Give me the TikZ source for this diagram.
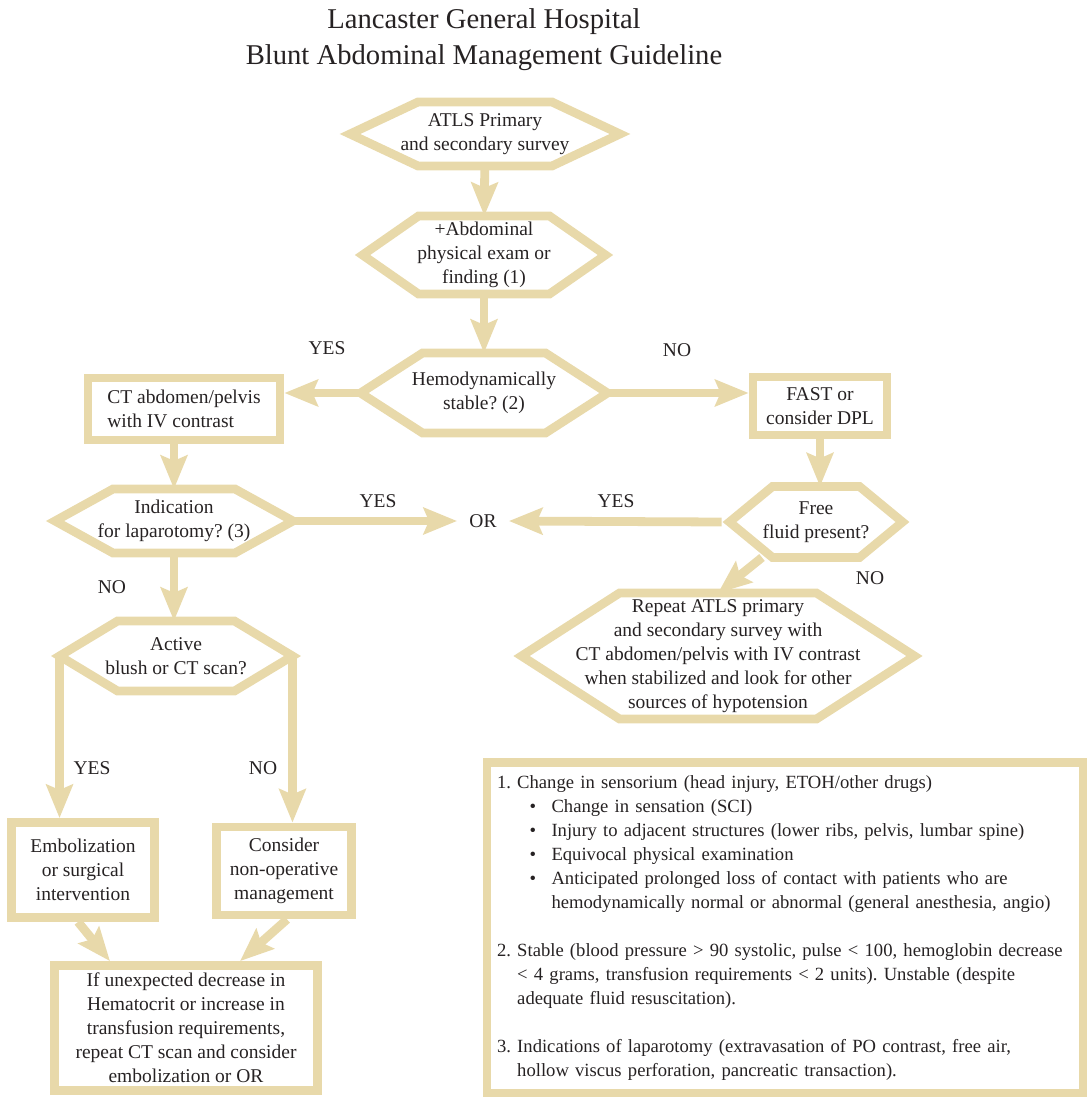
\documentclass[tikz,border=0pt]{standalone}
\usepackage{fontspec}
\setmainfont{Liberation Serif}
\usetikzlibrary{arrows.meta,calc}
\frenchspacing

\definecolor{sand}{RGB}{232,217,170}
\definecolor{ink}{RGB}{38,34,35}

\newcommand{\notebul}{\makebox[31pt][l]{\hspace*{18.5pt}\textbullet}}
\newcommand{\noteind}{\hspace*{31pt}}
% hexagon outline round a node: name, pointer length
\newcommand{\hexline}[2]{%
  \draw[hexedge] (#1.west) -- ($(#1.north west)+(#2,0)$) -- ($(#1.north east)+(-#2,0)$)
    -- (#1.east) -- ($(#1.south east)+(-#2,0)$) -- ($(#1.south west)+(#2,0)$) -- cycle;}

\tikzset{
  hexbox/.style={rectangle, align=center, inner sep=0pt, outer sep=0pt, text=ink},
  hexedge/.style={draw=sand, line width=5pt, line join=miter},
  sqbox/.style={rectangle, draw=sand, line width=5pt, align=center, inner sep=0pt, text=ink},
  flow/.style={draw=sand, line width=5pt, -{Stealth[length=19pt,width=15pt,inset=3pt]}},
  lbl/.style={text=ink, inner sep=0pt},
}

\begin{document}
\begin{tikzpicture}[x=0.02cm, y=-0.02cm, font=\fontsize{11.1}{13.7}\selectfont]
  \useasboundingbox (0,0) rectangle (1086,1097);

  % title
  \node[lbl, align=center, font=\fontsize{16.3}{20.4}\selectfont] (title) at (484,40)
    {Lancaster General Hospital\\Blunt Abdominal Management Guideline};

  % decisions
  \node[hexbox, minimum width=5.4cm, minimum height=1.28cm] (atls) at (485,134)
    {ATLS Primary\\and secondary survey};
  \node[hexbox, minimum width=4.86cm, minimum height=1.56cm] (abd) at (484,255)
    {+Abdominal\\physical exam or\\finding (1)};
  \node[hexbox, minimum width=4.94cm, minimum height=1.6cm] (hemo) at (484,393)
    {Hemodynamically\\stable? (2)};
  \node[hexbox, minimum width=4.76cm, minimum height=1.28cm] (ind) at (174,521)
    {Indication\\for laparotomy? (3)};
  \node[hexbox, minimum width=4.66cm, minimum height=1.4cm] (active) at (176,656)
    {Active\\blush or CT scan?};
  \node[hexbox, minimum width=3.46cm, minimum height=1.42cm] (free) at (816,522)
    {Free\\fluid present?};
  \node[hexbox, minimum width=7.86cm, minimum height=2.52cm] (repeat) at (718,656)
    {Repeat ATLS primary\\and secondary survey with\\CT abdomen/pelvis with IV contrast\\when stabilized and look for other\\sources of hypotension};
  \hexline{atls}{68}
  \hexline{abd}{56}
  \hexline{hemo}{62}
  \hexline{ind}{58}
  \hexline{active}{58}
  \hexline{free}{43}
  \hexline{repeat}{98}

  % actions
  \node[sqbox, align=left, minimum width=3.84cm, minimum height=1.24cm] (ct) at (184,409)
    {CT abdomen/pelvis\\with IV contrast};
  \node[sqbox, minimum width=2.68cm, minimum height=1.16cm] (fast) at (820,406)
    {FAST or\\consider DPL};
  \node[sqbox, minimum width=2.86cm, minimum height=1.9cm] (emb) at (83,870)
    {Embolization\\or surgical\\intervention};
  \node[sqbox, minimum width=2.7cm, minimum height=1.76cm] (consider) at (284,871)
    {Consider\\non-operative\\management};
  \node[sqbox, minimum width=5.26cm, minimum height=2.5cm] (ifbox) at (186,1028)
    {If unexpected decrease in\\Hematocrit or increase in\\transfusion requirements,\\repeat CT scan and consider\\embolization or OR};
  \node[lbl, inner sep=0.24cm] (or) at (483,521) {OR};

  % footnotes
  \node[sqbox, align=left, minimum width=11.92cm, minimum height=6.62cm, text width=11.52cm,
    font=\fontsize{10.6}{13.7}\selectfont] (notes) at (785,928)
    {1.~Change in sensorium (head injury, ETOH/other drugs)\\
     \notebul Change in sensation (SCI)\\
     \notebul Injury to adjacent structures (lower ribs, pelvis, lumbar spine)\\
     \notebul Equivocal physical examination\\
     \notebul Anticipated prolonged loss of contact with patients who are\\
     \noteind hemodynamically normal or abnormal (general anesthesia, angio)\\[13.7pt]
     2.~Stable (blood pressure > 90 systolic, pulse < 100, hemoglobin decrease\\
     \phantom{2.~}< 4 grams, transfusion requirements < 2 units). Unstable (despite\\
     \phantom{2.~}adequate fluid resuscitation).\\[13.7pt]
     3.~Indications of laparotomy (extravasation of PO contrast, free air,\\
     \phantom{3.~}hollow viscus perforation, pancreatic transaction).};

  % connectors
  \draw[flow] (atls) -- (abd);
  \draw[flow] (abd) -- (hemo);
  \draw[flow] (hemo.west) -- (hemo.west -| ct.east);
  \draw[flow] (hemo.east) -- (hemo.east -| fast.west);
  \draw[flow] (ind.north |- ct.south) -- (ind.north);
  \draw[flow] (ind.east) -- (or.west);
  \draw[flow] ([xshift=-0.16cm]free.west) -- (or.east);
  \draw[flow] (fast.south) -- (fast.south |- free.north);
  \draw[flow] ($(free.south)+(-54,0)$) -- (repeat.north);
  \draw[flow] (ind.south) -- (ind.south |- active.north);
  \draw[flow] (active.west) -- (active.west |- emb.north);
  \draw[flow] (active.east) -- (active.east |- consider.north);
  \draw[flow] ($(emb.south)+(-5,0)$) -- ($(ifbox.north)+(-76,0)$);
  \draw[flow] ($(consider.south)+(3,0)$) -- ($(ifbox.north)+(54,0)$);

  % branch labels
  \node[lbl] (yes1) at (327,348) {YES};
  \node[lbl] (no1) at (677,350) {NO};
  \node[lbl] (yes2) at (378,501) {YES};
  \node[lbl] (yes3) at (616,501) {YES};
  \node[lbl] (no2) at (112,587) {NO};
  \node[lbl] (no3) at (870,578) {NO};
  \node[lbl] (yes4) at (92,768) {YES};
  \node[lbl] (no4) at (263,768) {NO};
\end{tikzpicture}
\end{document}
